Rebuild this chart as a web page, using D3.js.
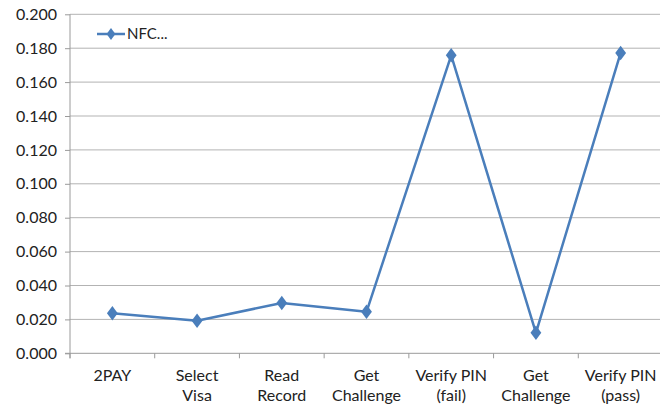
<!DOCTYPE html>
<html>
<head>
<meta charset="utf-8">
<script src="https://cdn.jsdelivr.net/npm/d3@7"></script>
<style>
  body { margin: 0; background: #fff; }
  svg text { font-family: Lato, "Open Sans", sans-serif; fill: #222; }
</style>
</head>
<body>
<div id="chart"></div>
<script>
var categories = [
  ["2PAY"],
  ["Select", "Visa"],
  ["Read", "Record"],
  ["Get", "Challenge"],
  ["Verify PIN", "(fail)"],
  ["Get", "Challenge"],
  ["Verify PIN", "(pass)"]
];
var nfcValues = [0.0236, 0.0192, 0.0297, 0.0245, 0.1758, 0.0121, 0.1772];
var yTicks = [0, 0.02, 0.04, 0.06, 0.08, 0.1, 0.12, 0.14, 0.16, 0.18, 0.2];
var seriesName = "NFC...";

var w = 660, h = 407;
var plotLeft = 70, plotRight = 663, plotTop = 14.3, plotBottom = 353.3;
var lineColor = "#4a7ebb";

var svg = d3.select("#chart").append("svg")
  .attr("width", w)
  .attr("height", h);

var x = d3.scaleBand()
  .domain(d3.range(categories.length))
  .range([plotLeft, plotRight]);

var y = d3.scaleLinear()
  .domain([0, 0.2])
  .range([plotBottom, plotTop]);

// gridlines
svg.append("g")
  .selectAll("line")
  .data(yTicks.slice(1))
  .enter().append("line")
  .attr("x1", plotLeft)
  .attr("x2", w)
  .attr("y1", function(d) { return y(d); })
  .attr("y2", function(d) { return y(d); })
  .attr("stroke", "#b3b3b3")
  .attr("stroke-width", 1);

// y axis
var yAxis = svg.append("g")
  .attr("transform", "translate(" + plotLeft + ",0)")
  .call(d3.axisLeft(y).tickValues(yTicks).tickFormat(d3.format(".3f")).tickSize(5).tickPadding(8));
yAxis.select(".domain").attr("stroke", "#9a9a9a").attr("d", "M0," + (plotBottom + 5) + "V" + plotTop);
yAxis.selectAll(".tick line").attr("stroke", "#9a9a9a");
yAxis.selectAll("text").style("font-size", "16px").attr("fill", "#222");

// x axis
var xAxis = svg.append("g")
  .attr("transform", "translate(0," + plotBottom + ")");
xAxis.append("line")
  .attr("x1", plotLeft - 5).attr("x2", w)
  .attr("stroke", "#9a9a9a");
xAxis.selectAll(".xt")
  .data(d3.range(categories.length))
  .enter().append("line")
  .attr("class", "xt")
  .attr("x1", function(d) { return x(d); })
  .attr("x2", function(d) { return x(d); })
  .attr("y1", 0).attr("y2", 5)
  .attr("stroke", "#9a9a9a");

var labels = xAxis.selectAll(".xl")
  .data(categories)
  .enter().append("text")
  .attr("class", "xl")
  .attr("text-anchor", "middle")
  .style("font-size", "16px")
  .attr("transform", function(d, i) { return "translate(" + (x(i) + x.bandwidth() / 2) + ",0)"; });
labels.selectAll("tspan")
  .data(function(d) { return d; })
  .enter().append("tspan")
  .attr("x", 0)
  .attr("y", function(d, i) { return 28 + i * 20; })
  .text(function(d) { return d; });

// series line
var line = d3.line()
  .x(function(d, i) { return x(i) + x.bandwidth() / 2; })
  .y(function(d) { return y(d); });

svg.append("path")
  .datum(nfcValues)
  .attr("d", line)
  .attr("fill", "none")
  .attr("stroke", lineColor)
  .attr("stroke-width", 2.5)
  .attr("stroke-linejoin", "round");

var diamond = d3.symbol().type(d3.symbolDiamond).size(60);
svg.append("g")
  .selectAll("path")
  .data(nfcValues)
  .enter().append("path")
  .attr("d", diamond)
  .attr("transform", function(d, i) { return "translate(" + (x(i) + x.bandwidth() / 2) + "," + y(d) + ") scale(1.3,1)"; })
  .attr("fill", lineColor);

// legend
var legend = svg.append("g").attr("transform", "translate(97,34)");
legend.append("line")
  .attr("x1", 0).attr("x2", 28)
  .attr("stroke", lineColor)
  .attr("stroke-width", 2.5);
legend.append("path")
  .attr("d", d3.symbol().type(d3.symbolDiamond).size(40))
  .attr("transform", "translate(14,0) scale(1.3,1)")
  .attr("fill", lineColor);
legend.append("text")
  .attr("x", 30)
  .attr("y", 5)
  .style("font-size", "15px")
  .text(seriesName);
</script>
</body>
</html>
